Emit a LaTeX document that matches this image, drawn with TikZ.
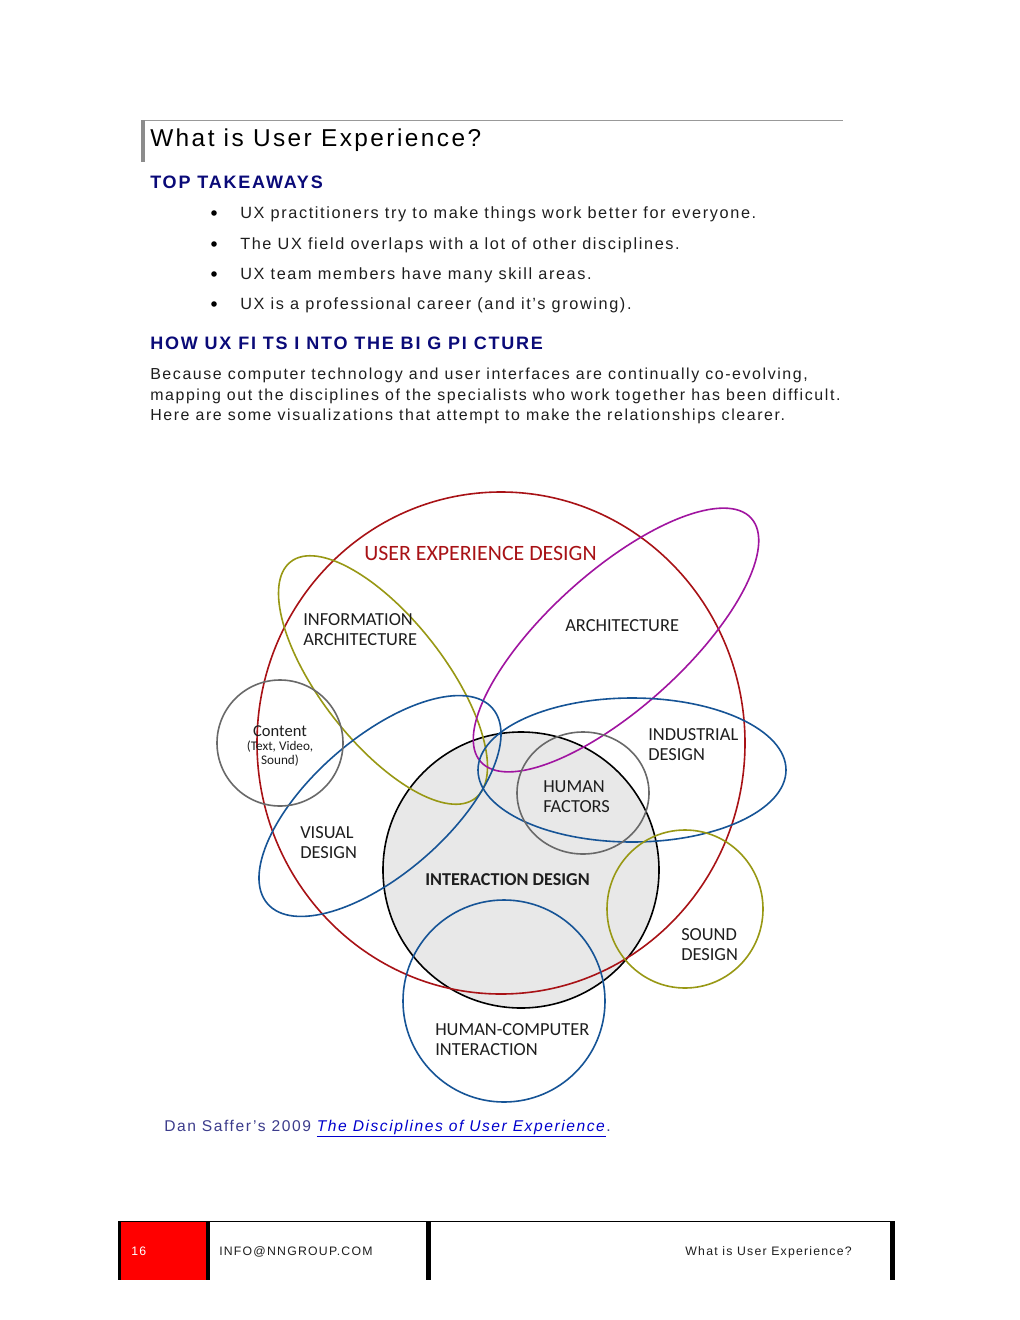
\documentclass[tikz,border=0pt]{standalone}
\usepackage{fontspec}
\setmainfont{Liberation Sans}[LetterSpace=10]
\newfontfamily\vennfont{Carlito}
\usetikzlibrary{positioning}

\definecolor{uxred}{RGB}{168,18,22}
\definecolor{ringolive}{RGB}{152,152,20}
\definecolor{ringmag}{RGB}{160,20,160}
\definecolor{ringblue}{RGB}{22,84,150}
\definecolor{ringgray}{RGB}{105,105,105}
\definecolor{fillgray}{RGB}{232,232,232}
\definecolor{labelgray}{RGB}{30,30,30}
\definecolor{headnavy}{RGB}{10,10,120}
\definecolor{capnavy}{RGB}{60,60,140}
\definecolor{linkblue}{RGB}{0,0,205}
\definecolor{footred}{RGB}{255,0,0}

\begin{document}
\begin{tikzpicture}[x=0.75pt,y=-0.75pt,
  ring/.style={line width=1.2pt},
  lbl/.style={anchor=west,align=left,inner sep=0pt,text=labelgray,
    font=\vennfont\fontsize{13.8}{15}\selectfont},
  body/.style={anchor=base west,inner sep=0pt,text=labelgray,
    font=\fontsize{11.95}{14}\selectfont},
  head/.style={anchor=base west,inner sep=0pt,text=headnavy,
    font=\bfseries\fontsize{13.5}{15}\selectfont},
  foot/.style={anchor=base west,inner sep=0pt,text=labelgray,
    font=\fontsize{9.2}{11}\selectfont}]

\useasboundingbox (0,0) rectangle (1020,1320);
\fill[white] (0,0) rectangle (1020,1320);

% Page heading
\draw[gray!80,line width=0.75pt] (141,120.5)--(843,120.5);
\draw[gray!90,line width=3pt] (143,120)--(143,162);
\node[anchor=base west,inner sep=0pt,font=\fontsize{18.3}{20}\selectfont] (title) at (150,146) {What is User Experience?};

% Takeaways
\node[head] (takeaways) at (150,188) {TOP TAKEAWAYS};
\foreach \y/\n/\t in {218/1/{UX practitioners try to make things work better for everyone.},
                      249/2/{The UX field overlaps with a lot of other disciplines.},
                      279/3/{UX team members have many skill areas.},
                      309/4/{UX is a professional career (and it’s growing).}}
{
\node[circle,fill=black,inner sep=0pt,minimum size=4.2pt] (dot\n) at (214,{\y-5}) {};
\node[body,font=\fontsize{12.2}{14}\selectfont] (item\n) at (240,\y) {\t};
}

% Big picture
\node[head] (bigpicture) at (150,349) {HOW UX FI TS I NTO THE BI G PI CTURE};
\node[body] (para1) at (150,379) {Because computer technology and user interfaces are continually co-evolving,};
\node[body] (para2) at (150,400) {mapping out the disciplines of the specialists who work together has been difficult.};
\node[body] (para3) at (150,420) {Here are some visualizations that attempt to make the relationships clearer.};

% Interaction design (filled, under everything)
\filldraw[fill=fillgray,draw=black,ring] (521,870) circle [radius=138];

% User experience design
\draw[uxred,ring] (501,743) ellipse [x radius=244, y radius=251];

% Information architecture
\draw[ringolive,ring,rotate around={-52:(383,680)}] (383,680) ellipse [x radius=150, y radius=62];

% Architecture
\draw[ringmag,ring,rotate around={42:(616,640)}] (616,640) ellipse [x radius=182, y radius=68];

% Visual design
\draw[ringblue,ring,rotate around={41:(380,806)}] (380,806) ellipse [x radius=149, y radius=68];

% Industrial design
\draw[ringblue,ring] (632,770) ellipse [x radius=154, y radius=72];

% Content, human factors
\draw[ringgray,ring] (280,743) circle [radius=63];
\draw[ringgray,ring] (583,793) ellipse [x radius=66, y radius=61];

% Sound design, HCI
\draw[ringolive,ring] (685,909) ellipse [x radius=78, y radius=79];
\draw[ringblue,ring] (504,1001) circle [radius=101];

% Labels
\node[lbl,text=uxred,font=\vennfont\fontsize{16.4}{18}\selectfont] (uxd) at (364,553) {USER EXPERIENCE DESIGN};
\node[lbl] (ia) at (303,630) {INFORMATION\\ARCHITECTURE};
\node[lbl] (arch) at (565,626) {ARCHITECTURE};
\node[anchor=center,align=center,inner sep=0pt,text=labelgray,font=\vennfont\fontsize{9.9}{10.5}\selectfont] (content)
  at (280,746) {{\fontsize{12.4}{13}\selectfont Content}\\(Text, Video,\\Sound)};
\node[lbl] (ind) at (648,745) {INDUSTRIAL\\DESIGN};
\node[lbl] (hf) at (543,797) {HUMAN\\FACTORS};
\node[lbl] (vis) at (300,843) {VISUAL\\DESIGN};
\node[lbl,font=\vennfont\bfseries\fontsize{13.6}{15}\selectfont] (ixd) at (425,880) {INTERACTION DESIGN};
\node[lbl] (snd) at (681,945) {SOUND\\DESIGN};
\node[lbl] (hci) at (435,1040) {HUMAN-COMPUTER\\INTERACTION};

% Caption
\node[body,text=capnavy,font=\fontsize{11.7}{14}\selectfont] (caption) at (164,1131)
  {Dan Saffer’s 2009 \textcolor{linkblue}{\underline{\textit{The Disciplines of User Experience}}}.};

% Footer
\fill[footred] (118,1221) rectangle (208,1280);
\draw[line width=1.2pt] (118,1221.5)--(895,1221.5);
\draw[line width=2pt] (119.5,1221)--(119.5,1280);
\draw[line width=3pt] (208,1221)--(208,1280);
\draw[line width=3.75pt] (428.5,1221)--(428.5,1280);
\draw[line width=3.75pt] (892.5,1221)--(892.5,1280);
\node[foot,text=white] (pagenum) at (131,1255) {16};
\node[foot] (email) at (219,1255) {INFO@NNGROUP.COM};
\node[foot,anchor=base east] (chapter) at (852,1255) {What is User Experience?};

\end{tikzpicture}
\end{document}
